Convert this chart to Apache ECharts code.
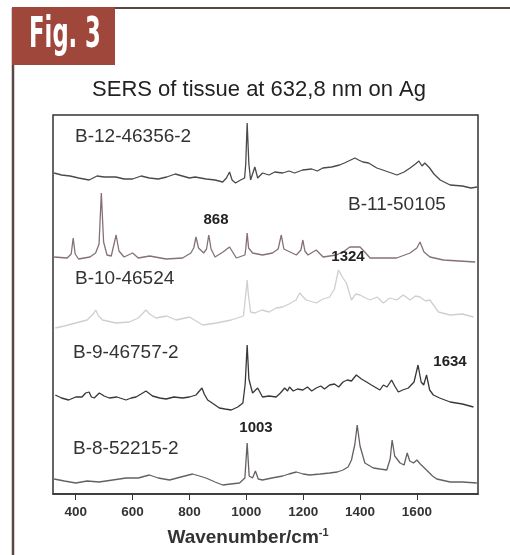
<!DOCTYPE html>
<html>
<head>
<meta charset="utf-8">
<script src="https://cdn.jsdelivr.net/npm/echarts@6.0.0/dist/echarts.min.js"></script>
<style>
  html, body { margin: 0; padding: 0; background: #fff; }
  #chart { width: 510px; height: 555px; }
</style>
</head>
<body>
<div id="chart"></div>
<script>
// spectra, [wavenumber, offset intensity]
const b12 = [[324,321],[350,319],[380,318],[410,316],[447,314],[475,318],[500,317],[541,317],[570,315],[600,315],[630,318],[659,316],[690,315],[720,317],[750,320],[775,318],[800,316],[820,317],[859,315],[890,314],[917,312],[930,316],[941,322],[950,314],[962,311],[980,314],[994,316],[998,330],[1003,371],[1009,330],[1015,314],[1030,327],[1040,316],[1057,321],[1080,319],[1100,322],[1128,321],[1150,323],[1170,321],[1198,324],[1230,325],[1250,323],[1269,326],[1300,327],[1328,329],[1345,331],[1360,333],[1382,336],[1395,334],[1410,332],[1430,331],[1459,326],[1480,324],[1500,322],[1530,319],[1555,322],[1576,326],[1595,330],[1607,333],[1618,328],[1628,331],[1645,326],[1660,320],[1682,314],[1717,309],[1760,308],[1790,306],[1812,307]];
const b11 = [[324,237],[370,236],[384,240],[391,256],[398,240],[410,235],[450,237],[470,241],[482,250],[490,301],[498,252],[510,239],[525,238],[542,259],[552,243],[570,237],[600,241],[620,236],[660,238],[718,235],[776,236],[805,241],[815,246],[823,257],[832,246],[850,241],[860,245],[868,259],[876,245],[890,237],[918,242],[941,247],[965,236],[995,239],[998,245],[1003,261],[1008,246],[1022,241],[1057,239],[1092,241],[1112,245],[1123,259],[1132,245],[1176,239],[1192,244],[1199,254],[1206,243],[1217,239],[1246,244],[1270,237],[1317,239],[1345,243],[1364,247],[1400,247],[1420,241],[1435,236],[1529,236],[1576,241],[1600,246],[1611,252],[1625,242],[1646,237],[1693,234],[1805,232]];
const b10 = [[328,166],[360,168],[400,171],[440,174],[462,180],[470,184],[480,178],[494,174],[541,171],[588,172],[620,176],[647,184],[660,180],[682,176],[720,178],[753,174],[800,177],[847,169],[894,171],[947,174],[990,178],[1000,205],[1003,214],[1007,200],[1015,182],[1030,181],[1055,184],[1080,182],[1105,186],[1128,187],[1150,190],[1175,194],[1188,201],[1200,197],[1211,194],[1246,191],[1270,195],[1293,197],[1310,205],[1324,224],[1340,216],[1352,211],[1370,194],[1385,200],[1400,199],[1420,196],[1435,194],[1460,197],[1482,191],[1505,196],[1529,194],[1552,199],[1576,194],[1595,198],[1611,197],[1630,193],[1646,194],[1676,182],[1717,179],[1760,180],[1799,177]];
const b9 = [[328,99],[350,96],[375,94],[400,97],[422,97],[435,101],[447,102],[455,97],[465,96],[483,101],[500,98],[518,96],[545,97],[577,94],[595,96],[612,97],[630,100],[647,103],[670,98],[695,96],[718,95],[745,97],[776,96],[800,97],[823,99],[844,106],[852,100],[864,94],[885,90],[905,86],[925,85],[947,84],[970,87],[988,91],[996,110],[1003,149],[1009,115],[1022,101],[1040,106],[1057,97],[1080,98],[1105,97],[1120,101],[1135,106],[1145,103],[1152,107],[1165,103],[1180,105],[1199,104],[1215,107],[1230,103],[1246,106],[1262,108],[1275,105],[1293,109],[1310,110],[1325,107],[1340,112],[1355,114],[1370,113],[1387,119],[1405,115],[1423,112],[1440,109],[1458,106],[1470,104],[1482,109],[1495,107],[1511,114],[1522,108],[1535,102],[1550,104],[1570,106],[1590,112],[1604,129],[1615,112],[1624,109],[1634,119],[1645,104],[1658,99],[1680,96],[1717,92],[1760,90],[1799,87]];
const b8 = [[324,15],[360,13],[400,11],[440,13],[482,12],[530,14],[577,16],[620,16],[659,19],[690,16],[730,14],[770,17],[811,20],[835,18],[858,16],[890,12],[917,9],[945,10],[976,11],[995,16],[1003,51],[1010,18],[1022,16],[1032,23],[1042,15],[1057,14],[1090,16],[1128,18],[1150,20],[1176,22],[1200,20],[1223,19],[1260,20],[1293,21],[1320,22],[1340,24],[1358,27],[1370,34],[1382,50],[1390,69],[1400,48],[1417,31],[1447,26],[1470,25],[1494,24],[1506,35],[1513,54],[1522,38],[1541,31],[1555,29],[1566,41],[1575,33],[1588,31],[1600,34],[1612,30],[1623,27],[1641,22],[1655,18],[1670,15],[1717,12],[1760,12],[1811,11]];

const sampleNames = ['B-12-46356-2','B-11-50105','B-10-46524','B-9-46757-2','B-8-52215-2'];
const peakLabels = ['868','1324','1634','1003'];
const tickValues = [400,600,800,1000,1200,1400,1600];

const font = '"Liberation Sans", Arial, sans-serif';

const spectra = [b12, b11, b10, b9, b8];
const colors = ['#4a4a4a', '#85707a', '#cfcfcf', '#383838', '#666066'];

// label positions (px)
const nameBoxes = [[75,137],[348,205],[75,279],[73,353],[73,449]];
const peakBoxes = [[216,220],[348,257],[450,362],[256,428]];

const graphics = [
  {type:'line', shape:{x1:13,y1:8,x2:13,y2:560}, style:{stroke:'#5b4545', lineWidth:2.5}},
  {type:'line', shape:{x1:13,y1:8,x2:515,y2:8}, style:{stroke:'#5b4545', lineWidth:2}},
  {type:'rect', shape:{x:12,y:7,width:103,height:58}, style:{fill:'#a0473c'}},
  {type:'text', x:65, y:36, scaleX:0.6, originX:0, originY:0, style:{text:'Fig. 3', fill:'#fff',
    font:'bold 42px "DejaVu Sans Condensed", "Liberation Sans Narrow", sans-serif',
    align:'center', verticalAlign:'middle', textAlign:'center', textVerticalAlign:'middle'}},
  {type:'text', x:259, y:90, style:{text:'SERS of tissue at 632,8 nm on Ag', fill:'#222',
    font:'22px ' + font, align:'center', verticalAlign:'middle', textAlign:'center', textVerticalAlign:'middle'}}
];
sampleNames.forEach((n, i) => {
  graphics.push({type:'text', x:nameBoxes[i][0], y:nameBoxes[i][1], z:10, style:{text:n, fill:'#333',
    font:'19px ' + font, align:'left', verticalAlign:'middle', textAlign:'left', textVerticalAlign:'middle'}});
});
peakLabels.forEach((p, i) => {
  graphics.push({type:'text', x:peakBoxes[i][0], y:peakBoxes[i][1], z:10, style:{text:p, fill:'#222',
    font:'bold 15px ' + font, align:'center', verticalAlign:'middle', textAlign:'center', textVerticalAlign:'middle'}});
});

const chart = echarts.init(document.getElementById('chart'), null, {renderer:'canvas'});
chart.setOption({
  backgroundColor:'#fff',
  animation:false,
  grid:{left:53, right:32, top:115, bottom:61, show:true, borderColor:'#333', borderWidth:1.5, backgroundColor:'transparent'},
  xAxis:{
    type:'value', min:320, max:1815,
    axisLine:{show:true, lineStyle:{color:'#333', width:1.5}},
    axisTick:{show:true, length:6, customValues:tickValues, lineStyle:{color:'#333'}},
    axisLabel:{customValues:tickValues, formatter:v => String(v), margin:11, color:'#333', fontSize:13.5, fontWeight:'bold', fontFamily:font},
    splitLine:{show:false},
    name:'{a|Wavenumber/cm}{b|-1}', nameLocation:'middle', nameGap:33,
    nameTextStyle:{padding:[0,35,0,0], rich:{
      a:{fontSize:19, fontWeight:'bold', color:'#333', fontFamily:font, lineHeight:22},
      b:{fontSize:11, fontWeight:'bold', color:'#333', fontFamily:font, verticalAlign:'top', lineHeight:22, padding:[0,0,10,0]}
    }}
  },
  yAxis:{type:'value', min:0, max:379, show:false},
  graphic:graphics,
  series:spectra.map((d, i) => ({
    type:'line', data:d, showSymbol:false, silent:true,
    lineStyle:{color:colors[i], width:1.3}
  }))
});
</script>
</body>
</html>
